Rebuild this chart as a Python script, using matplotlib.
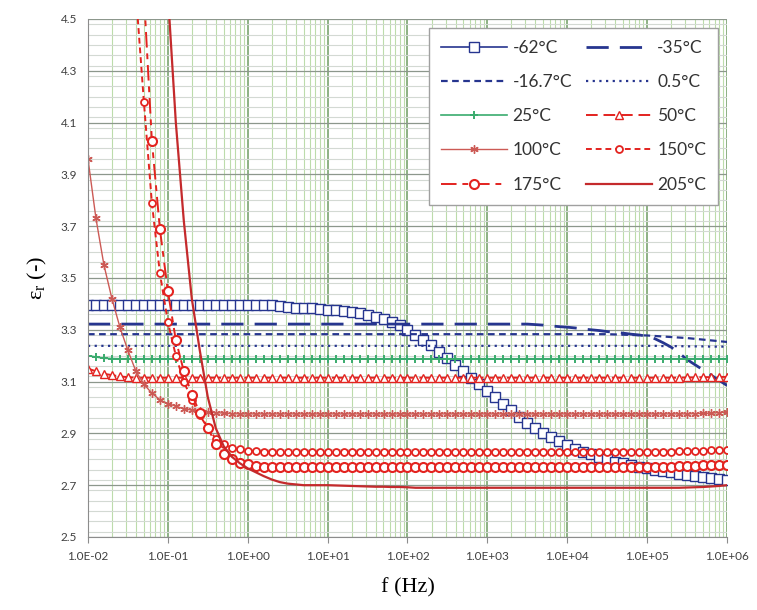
import numpy as np
import matplotlib
matplotlib.use("Agg")
import matplotlib.pyplot as plt
from matplotlib.ticker import LogLocator, MultipleLocator, FixedLocator

nan = np.nan

# measurement grid: 10 points per decade, 1e-2 .. 1e6 Hz
freq = np.logspace(-2, 6, 81)

# permittivity, one row of 10 per decade (logf -2.0 .. -1.1, -1.0 .. -0.1, ...)
eps_m62 = [
    3.395, 3.395, 3.395, 3.395, 3.395, 3.395, 3.395, 3.395, 3.395, 3.395,
    3.395, 3.395, 3.395, 3.395, 3.395, 3.395, 3.395, 3.395, 3.395, 3.395,
    3.395, 3.395, 3.395, 3.395, 3.390, 3.388, 3.385, 3.385, 3.383, 3.380,
    3.378, 3.375, 3.372, 3.368, 3.363, 3.357, 3.350, 3.340, 3.330, 3.317,
    3.300, 3.280, 3.260, 3.240, 3.215, 3.190, 3.165, 3.140, 3.115, 3.090,
    3.065, 3.040, 3.015, 2.990, 2.965, 2.940, 2.920, 2.900, 2.885, 2.870,
    2.855, 2.840, 2.830, 2.820, 2.810, 2.800, 2.790, 2.785, 2.778, 2.772,
    2.766, 2.760, 2.755, 2.750, 2.745, 2.740, 2.735, 2.730, 2.727, 2.724,
    2.720]
eps_m35 = [
    3.322, 3.322, 3.322, 3.322, 3.322, 3.322, 3.322, 3.322, 3.322, 3.322,
    3.322, 3.322, 3.322, 3.322, 3.322, 3.322, 3.322, 3.322, 3.322, 3.322,
    3.322, 3.322, 3.322, 3.322, 3.322, 3.322, 3.322, 3.322, 3.322, 3.322,
    3.322, 3.322, 3.322, 3.322, 3.322, 3.322, 3.322, 3.322, 3.322, 3.322,
    3.322, 3.322, 3.322, 3.322, 3.322, 3.322, 3.322, 3.322, 3.322, 3.322,
    3.322, 3.322, 3.322, 3.322, 3.322, 3.322, 3.320, 3.318, 3.315, 3.312,
    3.310, 3.307, 3.303, 3.300, 3.297, 3.293, 3.290, 3.287, 3.283, 3.280,
    3.275, 3.265, 3.250, 3.233, 3.210, 3.185, 3.165, 3.145, 3.125, 3.105,
    3.085]
eps_m16 = [
    3.283, 3.283, 3.283, 3.283, 3.283, 3.283, 3.283, 3.283, 3.283, 3.283,
    3.283, 3.283, 3.283, 3.283, 3.283, 3.283, 3.283, 3.283, 3.283, 3.283,
    3.283, 3.283, 3.283, 3.283, 3.283, 3.283, 3.283, 3.283, 3.283, 3.283,
    3.283, 3.283, 3.283, 3.283, 3.283, 3.283, 3.283, 3.283, 3.283, 3.283,
    3.283, 3.283, 3.283, 3.283, 3.283, 3.283, 3.283, 3.283, 3.283, 3.283,
    3.283, 3.283, 3.283, 3.283, 3.283, 3.283, 3.283, 3.283, 3.283, 3.283,
    3.283, 3.283, 3.283, 3.283, 3.283, 3.283, 3.282, 3.281, 3.280, 3.279,
    3.278, 3.276, 3.274, 3.272, 3.270, 3.268, 3.265, 3.262, 3.259, 3.256,
    3.253]
eps_p05 = [
    3.238, 3.238, 3.238, 3.238, 3.238, 3.238, 3.238, 3.238, 3.238, 3.238,
    3.238, 3.238, 3.238, 3.238, 3.238, 3.238, 3.238, 3.238, 3.238, 3.238,
    3.238, 3.238, 3.238, 3.238, 3.238, 3.238, 3.238, 3.238, 3.238, 3.238,
    3.238, 3.238, 3.238, 3.238, 3.238, 3.238, 3.238, 3.238, 3.238, 3.238,
    3.238, 3.238, 3.238, 3.238, 3.238, 3.238, 3.238, 3.238, 3.238, 3.238,
    3.238, 3.238, 3.238, 3.238, 3.238, 3.238, 3.238, 3.238, 3.238, 3.238,
    3.238, 3.238, 3.238, 3.238, 3.238, 3.238, 3.238, 3.238, 3.238, 3.238,
    3.238, 3.238, 3.237, 3.237, 3.237, 3.236, 3.236, 3.236, 3.235, 3.235,
    3.235]
eps_25 = [
    3.200, 3.195, 3.190, 3.189, 3.188, 3.188, 3.188, 3.188, 3.188, 3.188,
    3.188, 3.188, 3.188, 3.188, 3.188, 3.188, 3.188, 3.188, 3.188, 3.188,
    3.188, 3.188, 3.188, 3.188, 3.188, 3.188, 3.188, 3.188, 3.188, 3.188,
    3.188, 3.188, 3.188, 3.188, 3.188, 3.188, 3.188, 3.188, 3.188, 3.188,
    3.188, 3.188, 3.188, 3.188, 3.188, 3.188, 3.188, 3.188, 3.188, 3.188,
    3.188, 3.188, 3.188, 3.188, 3.188, 3.188, 3.188, 3.188, 3.188, 3.188,
    3.188, 3.188, 3.188, 3.188, 3.188, 3.188, 3.188, 3.188, 3.188, 3.188,
    3.188, 3.188, 3.188, 3.188, 3.188, 3.188, 3.188, 3.188, 3.188, 3.188,
    3.188]
eps_50 = [
    3.150, 3.140, 3.130, 3.125, 3.120, 3.117, 3.115, 3.115, 3.115, 3.115,
    3.115, 3.115, 3.115, 3.115, 3.115, 3.115, 3.115, 3.115, 3.115, 3.115,
    3.115, 3.115, 3.115, 3.115, 3.115, 3.115, 3.115, 3.115, 3.115, 3.115,
    3.115, 3.115, 3.115, 3.115, 3.115, 3.115, 3.115, 3.115, 3.115, 3.115,
    3.115, 3.115, 3.115, 3.115, 3.115, 3.115, 3.115, 3.115, 3.115, 3.115,
    3.115, 3.115, 3.115, 3.115, 3.115, 3.115, 3.115, 3.115, 3.115, 3.115,
    3.115, 3.115, 3.115, 3.115, 3.115, 3.115, 3.115, 3.115, 3.115, 3.115,
    3.115, 3.115, 3.115, 3.115, 3.115, 3.116, 3.116, 3.117, 3.117, 3.118,
    3.118]
eps_100 = [
    3.960, 3.730, 3.550, 3.420, 3.310, 3.220, 3.140, 3.090, 3.055, 3.030,
    3.015, 3.005, 2.995, 2.990, 2.985, 2.982, 2.980, 2.978, 2.976, 2.975,
    2.975, 2.975, 2.975, 2.975, 2.975, 2.975, 2.975, 2.975, 2.975, 2.975,
    2.975, 2.975, 2.975, 2.975, 2.975, 2.975, 2.975, 2.975, 2.975, 2.975,
    2.975, 2.975, 2.975, 2.975, 2.975, 2.975, 2.975, 2.975, 2.975, 2.975,
    2.975, 2.975, 2.975, 2.975, 2.975, 2.975, 2.975, 2.975, 2.975, 2.975,
    2.975, 2.975, 2.975, 2.975, 2.975, 2.975, 2.975, 2.975, 2.975, 2.975,
    2.975, 2.975, 2.975, 2.975, 2.975, 2.975, 2.976, 2.977, 2.978, 2.980,
    2.982]
eps_150 = [
    nan, nan, nan, nan, nan, nan, 4.600, 4.180, 3.790, 3.520,
    3.330, 3.200, 3.100, 3.030, 2.970, 2.920, 2.880, 2.860, 2.845, 2.838,
    2.833, 2.831, 2.830, 2.830, 2.830, 2.830, 2.830, 2.830, 2.830, 2.830,
    2.830, 2.830, 2.830, 2.830, 2.830, 2.830, 2.830, 2.830, 2.830, 2.830,
    2.830, 2.830, 2.830, 2.830, 2.830, 2.830, 2.830, 2.830, 2.830, 2.830,
    2.830, 2.830, 2.830, 2.830, 2.830, 2.830, 2.830, 2.830, 2.830, 2.830,
    2.830, 2.830, 2.830, 2.830, 2.830, 2.830, 2.830, 2.830, 2.830, 2.830,
    2.830, 2.830, 2.830, 2.830, 2.831, 2.832, 2.832, 2.833, 2.834, 2.835,
    2.835]
eps_175 = [
    nan, nan, nan, nan, nan, nan, nan, 4.600, 4.030, 3.690,
    3.450, 3.260, 3.140, 3.050, 2.980, 2.920, 2.860, 2.820, 2.800, 2.787,
    2.780, 2.775, 2.772, 2.772, 2.772, 2.772, 2.772, 2.772, 2.772, 2.772,
    2.772, 2.772, 2.772, 2.772, 2.772, 2.772, 2.772, 2.772, 2.772, 2.772,
    2.772, 2.772, 2.772, 2.772, 2.772, 2.772, 2.772, 2.772, 2.772, 2.772,
    2.772, 2.772, 2.772, 2.772, 2.772, 2.772, 2.772, 2.772, 2.772, 2.772,
    2.772, 2.772, 2.772, 2.772, 2.772, 2.772, 2.772, 2.772, 2.772, 2.772,
    2.772, 2.772, 2.772, 2.772, 2.773, 2.774, 2.775, 2.776, 2.777, 2.778,
    2.778]
eps_205 = [
    nan, nan, nan, nan, nan, nan, nan, nan, nan, nan,
    4.600, 4.100, 3.720, 3.420, 3.220, 3.040, 2.920, 2.850, 2.810, 2.785,
    2.765, 2.750, 2.735, 2.722, 2.712, 2.706, 2.703, 2.700, 2.700, 2.700,
    2.700, 2.699, 2.698, 2.697, 2.696, 2.695, 2.694, 2.694, 2.693, 2.693,
    2.692, 2.690, 2.690, 2.690, 2.690, 2.690, 2.690, 2.690, 2.690, 2.690,
    2.690, 2.690, 2.690, 2.690, 2.690, 2.690, 2.690, 2.690, 2.690, 2.690,
    2.690, 2.690, 2.690, 2.690, 2.690, 2.690, 2.690, 2.690, 2.690, 2.690,
    2.690, 2.690, 2.690, 2.690, 2.690, 2.691, 2.692, 2.693, 2.695, 2.697,
    2.700]

labels = ["-62°C", "-35°C", "-16.7°C", "0.5°C", "25°C",
          "50°C", "100°C", "150°C", "175°C", "205°C"]
xtick_labels = ["1.0E-02", "1.0E-01", "1.0E+00", "1.0E+01", "1.0E+02",
                "1.0E+03", "1.0E+04", "1.0E+05", "1.0E+06"]
ytick_values = [2.5, 2.7, 2.9, 3.1, 3.3, 3.5, 3.7, 3.9, 4.1, 4.3, 4.5]

navy = "#26358f"
green = "#3aab6e"
red = "#e3231f"
dred = "#c42a2c"
brick = "#cc5a55"

plt.rcParams['mathtext.default'] = 'regular'

fig = plt.figure(figsize=(7.57, 6.10), dpi=100)
ax = fig.add_axes([0.1162, 0.1197, 0.8442, 0.8492])

ax.set_xscale("log")
ax.set_xlim(1e-2, 1e6)
ax.set_ylim(2.5, 4.5)

# grid like the Excel original
ax.xaxis.set_major_locator(LogLocator(base=10, numticks=20))
ax.xaxis.set_minor_locator(LogLocator(base=10, subs=np.arange(2, 10), numticks=20))
ax.yaxis.set_major_locator(FixedLocator(ytick_values))
ax.yaxis.set_minor_locator(MultipleLocator(0.04))
ax.grid(which="major", axis="x", color="#6f9c63", lw=1.1)
ax.grid(which="minor", axis="x", color="#bcdcab", lw=0.8)
ax.grid(which="major", axis="y", color="#8c978c", lw=0.9)
ax.grid(which="minor", axis="y", color="#d3d9d3", lw=0.8)
ax.set_axisbelow(True)

h = {}
h[0], = ax.plot(freq, eps_m62, color=navy, lw=1.2, marker="s", ms=6.5,
                mfc="white", mec=navy, mew=1.0, label=labels[0])
h[1], = ax.plot(freq, eps_m35, color=navy, lw=2.0, dashes=(8, 4), label=labels[1])
h[2], = ax.plot(freq, eps_m16, color=navy, lw=1.6, dashes=(3, 2), label=labels[2])
h[3], = ax.plot(freq, eps_p05, color=navy, lw=1.6, dashes=(1, 2), label=labels[3])
h[4], = ax.plot(freq, eps_25, color=green, lw=1.2, marker="+", ms=6, mew=1.4,
                label=labels[4])
h[5], = ax.plot(freq, eps_50, color=red, lw=1.4, dashes=(6, 3), marker="^", ms=6,
                mfc="white", mec=red, mew=1.0, label=labels[5])
h[6], = ax.plot(freq, eps_100, color=brick, lw=1.0, marker=(6, 2, 0), ms=6,
                mew=1.0, label=labels[6])
h[7], = ax.plot(freq, eps_150, color=red, lw=1.4, dashes=(3, 2), marker="o", ms=5,
                mfc="white", mec=red, mew=1.3, label=labels[7])
h[8], = ax.plot(freq, eps_175, color=red, lw=1.4, dashes=(8, 3, 3, 3), marker="o",
                ms=6.5, mfc="white", mec=red, mew=1.5, label=labels[8])
h[9], = ax.plot(freq, eps_205, color=dred, lw=1.6, label=labels[9])

tick_font = dict(family="Lato", size=8.5, color="#404040")
ax.set_xticks(np.logspace(-2, 6, 9))
ax.set_xticklabels(xtick_labels, **tick_font)
ax.set_yticks(ytick_values)
ax.set_yticklabels(["%.1f" % v for v in ytick_values], **tick_font)
ax.tick_params(axis="x", which="major", length=4, color="#8c8c8c", pad=6)
ax.tick_params(axis="x", which="minor", length=0)
ax.tick_params(axis="y", which="both", length=0, pad=8)

for side in ["top", "right"]:
    ax.spines[side].set_visible(False)
ax.spines["left"].set_color("#8c8c8c")
ax.spines["bottom"].set_color("#8c8c8c")

ax.set_xlabel("f (Hz)", family="Liberation Serif", size=16, labelpad=12)
ax.set_ylabel("ε$_r$ (-)", family="Liberation Serif", size=16, labelpad=8)

# legend filled row by row: left column -62, -16.7, 25, 100, 175
order = [0, 2, 4, 6, 8, 1, 3, 5, 7, 9]
leg = ax.legend([h[i] for i in order], [labels[i] for i in order],
                ncol=2, loc="upper right", bbox_to_anchor=(1.0, 1.0),
                prop=dict(family="Lato", size=12.5), frameon=True, fancybox=False,
                edgecolor="#a0a0a0", framealpha=1.0, handlelength=3.8,
                columnspacing=0.8, labelspacing=1.05, borderpad=0.7,
                handletextpad=0.3)
for t in leg.get_texts():
    t.set_color("#333333")

fig.savefig("out.png", dpi=100)
